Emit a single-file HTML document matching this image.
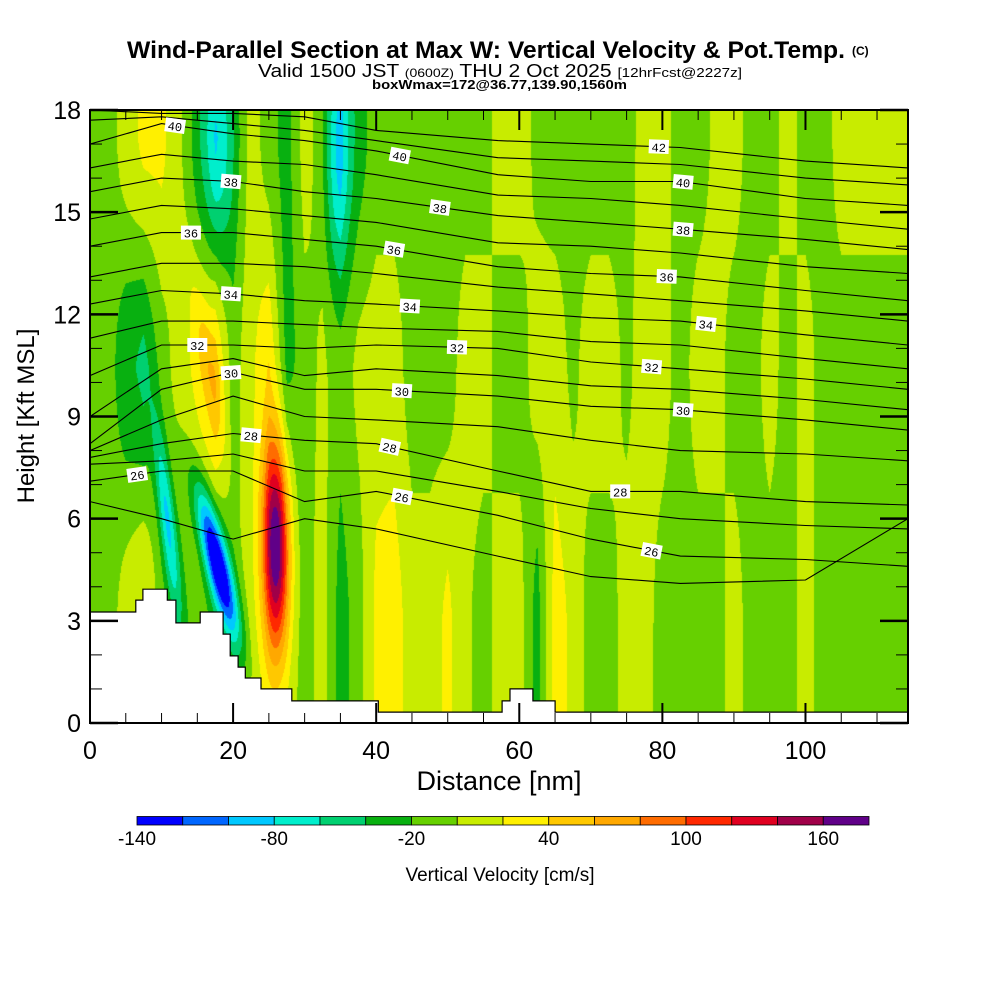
<!DOCTYPE html>
<html><head><meta charset="utf-8">
<style>
html,body{margin:0;padding:0;background:#fff;}
#wrap{position:relative;width:1000px;height:1000px;overflow:hidden;}
canvas,svg{position:absolute;left:0;top:0;}
</style></head>
<body>
<div id="wrap">
<canvas id="field" width="1000" height="1000"></canvas>
<svg id="svg" width="1000" height="1000" xmlns="http://www.w3.org/2000/svg" font-family="'Liberation Sans Narrow','Liberation Sans',sans-serif">
  <text x="127" y="58" font-size="24" font-weight="bold" textLength="718" lengthAdjust="spacingAndGlyphs">Wind-Parallel Section at Max W: Vertical Velocity &amp; Pot.Temp.</text>
  <text x="852" y="55" font-size="12" font-weight="bold">(C)</text>
  <text x="258" y="77" font-size="18" textLength="484" lengthAdjust="spacingAndGlyphs">Valid 1500 JST <tspan font-size="12">(0600Z)</tspan> THU 2 Oct 2025 <tspan font-size="13">[12hrFcst@2227z]</tspan></text>
  <text x="372" y="89" font-size="13" font-weight="bold" textLength="255" lengthAdjust="spacingAndGlyphs">boxWmax=172@36.77,139.90,1560m</text>
  <g id="contours"></g>
  <g id="terrainG"></g>
  <g id="labels"></g>
  <rect x="90" y="110" width="818" height="613" fill="none" stroke="#000" stroke-width="2"/>
  <g id="ticks"></g>
  <text x="499" y="790" font-size="27" text-anchor="middle" font-family="'Liberation Sans',sans-serif">Distance [nm]</text>
  <text transform="translate(34,416) rotate(-90)" font-size="24" text-anchor="middle" font-family="'Liberation Sans',sans-serif">Height [Kft MSL]</text>
  <g id="cbar"></g>
  <text x="500" y="881" font-size="19" text-anchor="middle" font-family="'Liberation Sans',sans-serif">Vertical Velocity [cm/s]</text>
</svg>
</div>
<script>
// ---- data ----
const xNodes = [0,2.5,5,7.5,10,12.5,15,17.5,20,22.5,25,27.5,30,32.5,35,37.5,40,42.5,45,47.5,50,52.5,55,57.5,60,62.5,65,67.5,70,72.5,75,77.5,80,82.5,85,87.5,90,92.5,95,97.5,100,102.5,105,107.5,110,112.5,115];
const wTop = [-10,-10,10,25,25,5,-30,-55,-30,10,-10,-30,10,-10,-60,-30,-10,-10,-10,-10,-10,-10,-10,10,10,-5,-10,-10,-10,-10,-10,10,10,-10,-10,5,10,-10,-10,10,-10,-10,10,10,10,10,10];
const wMid = [-5,-10,-35,-45,-10,10,25,45,-10,15,35,-30,-10,5,-10,5,10,10,-10,-10,-10,10,10,-10,-10,10,10,-5,10,10,-5,10,10,-10,10,10,-10,-10,10,-10,10,-10,-10,-10,-10,-10,-10];
const wLow = [-10,-10,10,25,-10,-20,-10,-20,-10,10,15,10,-10,10,-30,-10,25,30,10,10,25,5,-10,10,10,-30,30,15,-10,-10,10,10,-10,-10,-10,-10,10,-10,-10,-10,10,-10,-10,-10,-10,-10,-10];
// cores: x(nm), h(kft), amplitude(cm/s)
const coreX = [26.0,17.8,10.8,18.0,34.5,16.5];
const coreH = [5.2,4.7,6.0,16.5,16.5,10.5];
const coreAmp = [170,-150,-75,-30,-35,25];
const coreSx = [1.3,1.2,0.8,1.5,1.2,1.0];
const coreSh = [2.2,1.6,2.0,2.5,2.5,2.0];
const coreTilt = [0,-1.1,-0.5,0,0,-0.8];
// colour levels
const levelMin = [-140,-120,-100,-80,-60,-40,-20,0,20,40,60,80,100,120,140,160];
const levelColors = ['#0000ff','#0066ff','#00c8ff','#00eecc','#00d070','#08b010','#66d000','#c8ec00','#fff000','#ffc800','#ffa800','#ff6c00','#ff2800','#e00020','#a00048','#600088'];
const cbarTicks = [-140,-80,-20,40,100,160];
// potential temperature isentropes (heights in kft)
const thX = [0,10,20,30,40,57,70,82.5,100,114.3];
const thLevels = [42,41,40,39,38,37,36,35,34,33,32,31,30,29,28,27,26,25];
const thHeights = [
 [18.0,17.9,17.9,17.8,17.4,17.1,17.0,16.9,16.5,16.3],
 [17.7,17.8,17.6,17.4,17.1,16.6,16.5,16.4,16.0,15.8],
 [17.0,17.6,17.3,17.1,16.8,16.1,15.9,15.9,15.4,15.2],
 [16.3,16.7,16.5,16.4,16.1,15.5,15.4,15.2,14.8,14.5],
 [15.6,16.0,15.9,15.6,15.4,14.9,14.7,14.5,14.2,13.9],
 [14.8,15.2,15.1,14.9,14.7,14.1,14.0,13.8,13.4,13.2],
 [14.0,14.4,14.4,14.2,14.0,13.4,13.2,13.1,12.7,12.4],
 [13.1,13.5,13.5,13.4,13.2,12.8,12.6,12.4,12.1,11.8],
 [12.3,12.7,12.6,12.4,12.3,12.1,11.9,11.8,11.4,11.1],
 [11.3,11.8,11.8,11.7,11.6,11.5,11.2,11.1,10.7,10.4],
 [10.2,11.1,11.1,11.0,11.1,11.0,10.6,10.4,10.1,9.8],
 [9.0,10.4,10.7,10.2,10.4,10.2,9.9,9.8,9.5,9.2],
 [8.2,9.8,10.3,9.8,9.8,9.6,9.3,9.2,8.9,8.6],
 [8.0,8.9,9.6,9.0,8.9,8.7,8.3,8.0,7.9,7.7],
 [7.8,8.2,8.5,8.3,8.2,7.4,6.8,6.8,6.5,6.4],
 [7.6,7.7,7.9,7.4,7.4,6.8,6.3,6.0,5.8,5.7],
 [7.1,7.4,7.4,6.5,6.8,6.1,5.4,4.9,4.8,4.6],
 [6.5,6.0,5.4,6.0,5.7,4.9,4.3,4.1,4.2,6.0]
];
const labelLevel = [40,40,42,40,38,38,38,36,36,36,34,34,34,32,32,32,30,30,30,28,28,28,26,26,26];
const labelX = [11.9,43.3,79.5,82.9,19.7,48.9,82.9,14.1,42.5,80.6,19.7,44.7,86.1,15.0,51.3,78.5,19.7,43.6,82.9,22.5,41.9,74.1,6.6,43.6,78.5];
// terrain steps
const terrEdges = [0,6.4,7.4,10.8,12.0,15.4,18.6,19.6,20.7,21.7,23.9,28.2,40.3,57.6,58.7,61.9,65.0,114.33];
const terrH = [3.26,3.61,3.93,3.61,2.94,3.26,2.61,1.97,1.64,1.32,1.0,0.65,0.32,0.65,1.0,0.65,0.32];
const xTicks = [0,20,40,60,80,100];
const yTicks = [0,3,6,9,12,15,18];

// ---- scales ----
const X0=90, X1=908, Y0=723, Y1=110, XMAX=114.33, HMAX=18;
const sx = v => X0 + v/XMAX*(X1-X0);
const sy = v => Y0 - v/HMAX*(Y0-Y1);
const ix = p => (p-X0)/(X1-X0)*XMAX;
const iy = p => (Y0-p)/(Y0-Y1)*HMAX;
function interp(xs, ys, x){
  if(x<=xs[0]) return ys[0];
  for(let i=1;i<xs.length;i++){ if(x<=xs[i]){ const t=(x-xs[i-1])/(xs[i]-xs[i-1]); return ys[i-1]+t*(ys[i]-ys[i-1]); } }
  return ys[ys.length-1];
}
function ss(a,b,h){let t=Math.max(0,Math.min(1,(h-a)/(b-a)));return t*t*(3-2*t);}
function wAt(x,h){
  const T=interp(xNodes,wTop,x), M=interp(xNodes,wMid,x), L=interp(xNodes,wLow,x);
  let v;
  if(h>=10.5) v=M+(T-M)*ss(10,17.5,h); else v=L+(M-L)*ss(2.5,11,h);
  for(let i=0;i<coreX.length;i++){
    const dh=h-coreH[i];
    const dx=x-(coreX[i]+coreTilt[i]*dh);
    v+=coreAmp[i]*Math.exp(-0.5*(dx/coreSx[i])**2-0.5*(dh/coreSh[i])**2);
  }
  return v;
}
function colorIdx(v){ let k=Math.floor((v+140)/20); return Math.max(0,Math.min(15,k)); }
const rgb = levelColors.map(c=>[parseInt(c.substr(1,2),16),parseInt(c.substr(3,2),16),parseInt(c.substr(5,2),16)]);

// ---- field ----
const cv=document.getElementById('field'), ctx=cv.getContext('2d');
const img=ctx.createImageData(X1-X0, Y0-Y1);
for(let py=0;py<Y0-Y1;py++){
  const h=iy(Y1+py+0.5);
  for(let px=0;px<X1-X0;px++){
    const c=rgb[colorIdx(wAt(ix(X0+px+0.5),h))];
    const o=(py*(X1-X0)+px)*4;
    img.data[o]=c[0];img.data[o+1]=c[1];img.data[o+2]=c[2];img.data[o+3]=255;
  }
}
ctx.putImageData(img,X0,Y1);

// ---- svg ----
const NS='http://www.w3.org/2000/svg';
function mk(tag,attrs,parent){const e=document.createElementNS(NS,tag);for(const k in attrs)e.setAttribute(k,attrs[k]);parent.appendChild(e);return e;}
const gC=document.getElementById('contours');
const cp=mk('clipPath',{id:'plotclip'},gC);
mk('rect',{x:X0,y:Y1,width:X1-X0,height:Y0-Y1},cp);
gC.setAttribute('clip-path','url(#plotclip)');
thLevels.forEach((lev,i)=>{
  const pts=thX.map((x,j)=>sx(x).toFixed(1)+','+sy(thHeights[i][j]).toFixed(1)).join(' ');
  const pl=mk('polyline',{points:pts,fill:'none',stroke:'#000','stroke-width':'1.1'},gC);
  
  
});
// terrain
const gT=document.getElementById('terrainG');
let d='M'+X0+','+Y0;
for(let i=0;i<terrH.length;i++){ d+=' L'+sx(terrEdges[i]).toFixed(1)+','+sy(terrH[i]).toFixed(1)+' L'+sx(terrEdges[i+1]).toFixed(1)+','+sy(terrH[i]).toFixed(1); }
d+=' L'+X1+','+Y0+' Z';
const tp=mk('path',{d:d,fill:'#fff',stroke:'#000','stroke-width':'1.2'},gT);


// labels
const gL=document.getElementById('labels');
labelLevel.forEach((lev,k)=>{
  const i=thLevels.indexOf(lev), x=labelX[k];
  const h=interp(thX,thHeights[i],x);
  const px=sx(x), py=sy(h);
  const ang=Math.atan2(sy(interp(thX,thHeights[i],x+1))-sy(interp(thX,thHeights[i],x-1)), sx(x+1)-sx(x-1))*180/Math.PI;
  const g=mk('g',{transform:`translate(${px.toFixed(1)},${py.toFixed(1)}) rotate(${ang.toFixed(1)})`},gL);
  
  
  mk('rect',{x:-10,y:-7,width:20,height:14,fill:'#fff'},g);
  const t=mk('text',{x:0,y:5,'font-size':'12','text-anchor':'middle','font-family':"'Liberation Mono',monospace"},g);
  t.textContent=lev;
});
// ticks
const gK=document.getElementById('ticks');
function line(x1,y1,x2,y2,w){mk('line',{x1,y1,x2,y2,stroke:'#000','stroke-width':w},gK);}
for(let v=0;v<=XMAX;v+=5){const p=sx(v),maj=v%20===0,L=maj?20:10;line(p,Y0,p,Y0-L,maj?2:1);line(p,Y1,p,Y1+L,maj?2:1);}
for(let v=0;v<=HMAX;v+=1){const p=sy(v),maj=v%3===0,L=maj?28:12;line(X0,p,X0+L,p,maj?2.5:1);line(X1,p,X1-L,p,maj?2.5:1);}
xTicks.forEach(v=>{const t=mk('text',{x:sx(v),y:759,'font-size':'25','text-anchor':'middle','font-family':"'Liberation Sans',sans-serif"},gK);t.textContent=v;});
yTicks.forEach(v=>{const t=mk('text',{x:81,y:sy(v)+9,'font-size':'25','text-anchor':'end','font-family':"'Liberation Sans',sans-serif"},gK);t.textContent=v;});
// colorbar
const gB=document.getElementById('cbar');
const CB0=137, CBW=45.75, CBY=816.5, CBH=8.5;
levelMin.forEach((v,i)=>{const r=mk('rect',{x:CB0+i*CBW,y:CBY,width:CBW,height:CBH,fill:levelColors[i],stroke:'#000','stroke-width':'0.8'},gB);});
cbarTicks.forEach(v=>{const t=mk('text',{x:CB0+(v+140)/20*CBW,y:845,'font-size':'19','text-anchor':'middle','font-family':"'Liberation Sans',sans-serif"},gB);t.textContent=v;});
</script>
</body></html>
